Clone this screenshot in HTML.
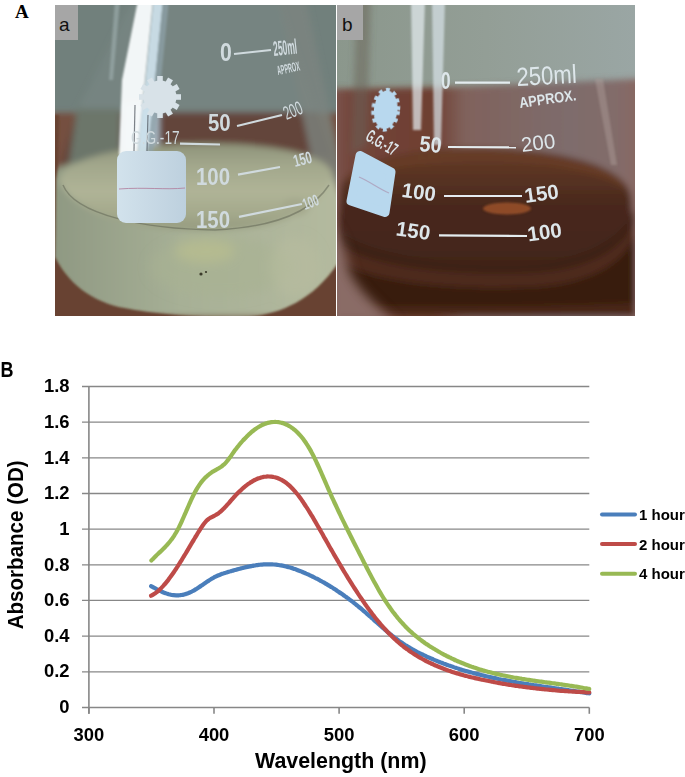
<!DOCTYPE html>
<html><head><meta charset="utf-8">
<style>
html,body{margin:0;padding:0;background:#fff;}
body{width:685px;height:777px;position:relative;overflow:hidden;}
.abs{position:absolute;}
#A{left:15px;top:1px;font:bold 19px "Liberation Serif",serif;color:#000;}
#pa{left:55px;top:5px;width:281px;height:311px;overflow:hidden;}
#pb{left:337px;top:5px;width:298px;height:311px;overflow:hidden;}
svg text{font-family:"Liberation Sans",sans-serif;}
</style></head><body>
<div id="A" class="abs">A</div>
<div id="pa" class="abs"><svg width="281" height="311" viewBox="0 0 281 311">
<defs>
<filter id="fa1" x="-20%" y="-20%" width="140%" height="140%"><feGaussianBlur stdDeviation="3"/></filter>
<filter id="fa1b" x="-20%" y="-20%" width="140%" height="140%"><feGaussianBlur stdDeviation="6"/></filter>
<filter id="fa2" x="-20%" y="-20%" width="140%" height="140%"><feGaussianBlur stdDeviation="1.2"/></filter>
<filter id="fa3"><feGaussianBlur stdDeviation="0.5"/></filter>
<linearGradient id="liqa" x1="0" y1="0" x2="1" y2="0">
<stop offset="0" stop-color="#8e9882"/>
<stop offset="0.45" stop-color="#a7b096"/>
<stop offset="1" stop-color="#b4ba9f"/>
</linearGradient>
<linearGradient id="surfa" x1="0" y1="0" x2="0" y2="1">
<stop offset="0" stop-color="#8e937a"/>
<stop offset="0.25" stop-color="#a2a78c"/>
<stop offset="0.55" stop-color="#b0b497"/>
<stop offset="0.8" stop-color="#a4a98c"/>
<stop offset="1" stop-color="#959a7e"/>
</linearGradient>
</defs>
<rect width="281" height="311" fill="#71807c"/>
<g filter="url(#fa1)">
<rect x="-10" y="108" width="300" height="210" fill="#75503f"/>
<path d="M80,-10 L222,-10 L262,107 L22,107 Z" fill="#768481"/>
<path d="M22,107 L262,107 L276,150 L4,165 Z" fill="#64443a"/>
<path d="M222,-10 L250,-10 L290,180 L262,180 Z" fill="#7c8580" opacity="0.8"/>
<path d="M22,104 L66,104 L64,172 L12,172 Z" fill="#6c766a"/>
<path d="M70,100 L104,100 L104,146 L68,146 Z" fill="#a8b8c2"/>
<path d="M-5,168 C6,145 268,140 276,168 L290,200 L290,311 L-5,311 Z" fill="url(#liqa)"/>
<path d="M4,176 C8,130 270,124 278,170 C262,212 220,224 150,226 C80,224 20,210 4,176 Z" fill="url(#surfa)"/>
<ellipse cx="240" cy="202" rx="14" ry="9" fill="#a4a88c"/>
</g>
<g filter="url(#fa1b)">
<ellipse cx="165" cy="262" rx="70" ry="30" fill="#a9b293" opacity="0.6"/><ellipse cx="150" cy="246" rx="30" ry="12" fill="#c0c38e" opacity="0.55"/><ellipse cx="240" cy="262" rx="25" ry="30" fill="#b8bc9e" opacity="0.6"/>
</g>
<g filter="url(#fa2)">
<path d="M-5,110 L4,110 L3,160 L1,175 L0,252 C16,284 45,300 75,304 C100,309 150,313 184,313 C218,311 255,300 283,258 L290,320 L-5,320 Z" fill="#684230"/>

</g>
<path d="M8,180 C20,210 90,224 160,225 C225,222 258,205 274,180" stroke="#55594a" stroke-width="1.5" fill="none" opacity="0.45" filter="url(#fa3)"/>
<g filter="url(#fa2)">
<path d="M83,-5 L98,-5 L90,75 L82,150 L64,150 L67,75 Z" fill="#f8fbfc" opacity="0.96"/>
<path d="M98.5,-5 L108,-5 L100,75 L92,150 L82.5,150 L90.5,75 Z" fill="#cfe3ee" opacity="0.9"/>
<path d="M108,-5 L114,-5 L106,75 L98,150 L92,150 L100,75 Z" fill="#8fa2aa" opacity="0.7"/>
<path d="M60,-5 L65,-5 L58,75 L54,75 Z" fill="#a0b0b0" opacity="0.6"/>
</g>
<circle cx="146" cy="269" r="1.6" fill="#3a3a2a"/><circle cx="151" cy="267" r="1.1" fill="#3a3a2a"/>
<g stroke="#4a5058" stroke-width="1.2" opacity="0.7" filter="url(#fa3)"><line x1="80" y1="100" x2="79" y2="146"/><line x1="93" y1="110" x2="92" y2="146"/></g>
<linearGradient id="laba" x1="0" y1="0" x2="1" y2="0"><stop offset="0" stop-color="#d2e2ec"/><stop offset="1" stop-color="#bdd0de"/></linearGradient>
<rect x="62" y="146" width="69" height="72" rx="9" fill="url(#laba)"/>
<path d="M64,184 C90,182 110,185 130,183" stroke="#b07a9a" stroke-width="1" fill="none" opacity="0.8"/>
<g fill="#d8e2e8" filter="url(#fa3)"><circle cx="105" cy="92" r="16.5"/><rect x="102.2" y="71.0" width="5.6" height="7" transform="rotate(0 105 92)"/><rect x="102.2" y="71.0" width="5.6" height="7" transform="rotate(30 105 92)"/><rect x="102.2" y="71.0" width="5.6" height="7" transform="rotate(60 105 92)"/><rect x="102.2" y="71.0" width="5.6" height="7" transform="rotate(90 105 92)"/><rect x="102.2" y="71.0" width="5.6" height="7" transform="rotate(120 105 92)"/><rect x="102.2" y="71.0" width="5.6" height="7" transform="rotate(150 105 92)"/><rect x="102.2" y="71.0" width="5.6" height="7" transform="rotate(180 105 92)"/><rect x="102.2" y="71.0" width="5.6" height="7" transform="rotate(210 105 92)"/><rect x="102.2" y="71.0" width="5.6" height="7" transform="rotate(240 105 92)"/><rect x="102.2" y="71.0" width="5.6" height="7" transform="rotate(270 105 92)"/><rect x="102.2" y="71.0" width="5.6" height="7" transform="rotate(300 105 92)"/><rect x="102.2" y="71.0" width="5.6" height="7" transform="rotate(330 105 92)"/></g>
<g fill="#d0dade" font-family="Liberation Sans" font-weight="bold" filter="url(#fa3)">
<text transform="translate(165,56) scale(0.85,1)" font-size="25">0</text>
<text transform="translate(219,51) rotate(-6) scale(0.4,1)" font-size="21">250ml</text>
<text transform="translate(223,70) rotate(-12) scale(0.42,1)" font-size="13">APPROX</text>
<text transform="translate(153,126) scale(0.85,1)" font-size="24">50</text>
<text transform="translate(231.5,115) rotate(-22) scale(0.6,1)" font-size="19" font-weight="normal">200</text>
<text transform="translate(141,180) scale(0.85,1)" font-size="24">100</text>
<text transform="translate(141,222.5) scale(0.85,1)" font-size="24">150</text>
<text transform="translate(240,162) rotate(-14) scale(0.65,1)" font-size="17">150</text>
<text transform="translate(250,205) rotate(-20) scale(0.6,1)" font-size="16">100</text>
<text transform="translate(76,139) scale(0.72,1)" font-size="19" font-weight="normal">G.G.-17</text>
</g>
<g stroke="#d0dade" stroke-width="2.2" filter="url(#fa3)">
<line x1="179" y1="49" x2="216" y2="45"/>
<line x1="182" y1="121" x2="227" y2="110"/>
<line x1="183" y1="169.7" x2="225" y2="162"/>
<line x1="184" y1="211.8" x2="247" y2="199"/>
<line x1="125" y1="138.6" x2="165" y2="139.5"/>
</g>
<rect x="0" y="0" width="23" height="35" fill="#a6a6a6"/>
<text x="4" y="26" font-size="19" fill="#111" font-family="Liberation Sans">a</text>
</svg>
</div>
<div id="pb" class="abs"><svg width="298" height="311" viewBox="0 0 298 311">
<defs>
<filter id="fb1" x="-20%" y="-20%" width="140%" height="140%"><feGaussianBlur stdDeviation="3"/></filter>
<filter id="fb1b" x="-20%" y="-20%" width="140%" height="140%"><feGaussianBlur stdDeviation="6"/></filter>
<filter id="fb2" x="-20%" y="-20%" width="140%" height="140%"><feGaussianBlur stdDeviation="1.2"/></filter>
<filter id="fb3"><feGaussianBlur stdDeviation="0.5"/></filter>
<linearGradient id="wallb" x1="0" y1="0" x2="1" y2="0">
<stop offset="0" stop-color="#8b978c"/>
<stop offset="0.5" stop-color="#939e96"/>
<stop offset="1" stop-color="#9aa6a4"/>
</linearGradient>
<linearGradient id="tableb" x1="0" y1="0" x2="1" y2="0">
<stop offset="0" stop-color="#7f5c55"/>
<stop offset="0.07" stop-color="#73463c"/>
<stop offset="0.33" stop-color="#6e3e30"/>
<stop offset="0.43" stop-color="#80625c"/>
<stop offset="0.75" stop-color="#7e6c6c"/>
<stop offset="0.9" stop-color="#826c6a"/>
<stop offset="1" stop-color="#8a6660"/>
</linearGradient>
<linearGradient id="liqb" x1="0" y1="0" x2="0" y2="1">
<stop offset="0" stop-color="#643c28"/>
<stop offset="0.15" stop-color="#5a3423"/>
<stop offset="0.35" stop-color="#48281c"/>
<stop offset="0.6" stop-color="#44261b"/>
<stop offset="1" stop-color="#3a1e10"/>
</linearGradient>
</defs>
<rect width="298" height="311" fill="url(#wallb)"/>
<g filter="url(#fb1)">
<path d="M-10,84 L120,82 L298,74 L310,74 L310,320 L-10,320 Z" fill="url(#tableb)"/>
<path d="M20,-10 L34,-10 L30,140 L14,150 Z" fill="#6a6258" opacity="0.5"/>
<path d="M4,185 C6,128 288,128 294,192 L298,250 L298,311 L0,311 L0,240 Z" fill="url(#liqb)"/>
<path d="M10,176 C20,140 275,138 290,186 C270,165 200,155 150,155 C90,155 40,162 10,176 Z" fill="#6e4026" opacity="0.8"/>
<path d="M4,228 C40,252 120,262 200,258 C250,252 282,235 298,205 L298,218 C282,248 250,264 200,268 C120,270 40,262 4,240 Z" fill="#3a1e12" opacity="0.6"/>
<path d="M4,242 C40,264 120,272 200,268 C250,264 282,248 298,218 L298,232 C282,262 250,278 200,282 C120,286 40,278 4,258 Z" fill="#583022" opacity="0.6"/>
<path d="M4,258 C40,278 120,286 200,282 C250,278 282,262 298,232 L298,311 L4,311 Z" fill="#361a0c" opacity="0.9"/>
<path d="M0,300 C100,302 200,302 298,298 L298,311 L0,311 Z" fill="#4e2c1a" opacity="0.8"/>
</g>
<g filter="url(#fb1b)">
<path d="M-10,215 C5,230 10,250 12,265 C20,285 40,300 60,320 L-10,320 Z" fill="#8a6c66"/>

</g>
<g filter="url(#fb2)">
<ellipse cx="170" cy="203.5" rx="24" ry="6" fill="#96502a" opacity="0.9"/>
<path d="M74,-5 L88,-5 L84,125 L76,125 Z" fill="#e6eef2" opacity="0.7"/>
<path d="M95,-5 L108,-5 L104,140 L97,140 Z" fill="#d8e4ea" opacity="0.7"/>
<path d="M258,74 L266,74 L280,160 L274,160 Z" fill="#b4a4a0" opacity="0.4"/>
</g>
<polygon points="23,150.5 54,167 48,207.5 14,196" fill="#b8d8ee" stroke="#b8d8ee" stroke-width="9" stroke-linejoin="round"/>
<path d="M22,172 C32,176 42,184 52,188" stroke="#a88aa8" stroke-width="1.2" fill="none" opacity="0.6"/>
<g fill="#b8d8ee" filter="url(#fb3)" transform="rotate(6 48.7 104.8)">
<ellipse cx="48.7" cy="104.8" rx="11.8" ry="19.2"/>
<ellipse cx="48.7" cy="104.8" rx="12.6" ry="20.2" fill="none" stroke="#b8d8ee" stroke-width="3.6" stroke-dasharray="3.9 3.7"/>
</g>
<g fill="#dde6ea" font-family="Liberation Sans" font-weight="bold" filter="url(#fb3)">
<text transform="translate(104,84) scale(0.72,1)" font-size="24">0</text>
<text transform="translate(180,81) rotate(-3) scale(0.85,1)" font-size="26" font-weight="normal">250ml</text>
<text transform="translate(183,103) rotate(-8) scale(0.85,1)" font-size="15">APPROX.</text>
<text transform="translate(82,146) rotate(5) scale(0.9,1)" font-size="22">50</text>
<text transform="translate(185,147) rotate(-7)" font-size="20.5" font-weight="normal">200</text>
<text transform="translate(64,191.7) rotate(8)" font-size="20.5">100</text>
<text transform="translate(58.3,230.3) rotate(8)" font-size="20.5">150</text>
<text transform="translate(188.6,197.9) rotate(-8)" font-size="20.5">150</text>
<text transform="translate(191.6,236.4) rotate(-8)" font-size="20.5">100</text>
<text transform="translate(27.5,134.5) rotate(30) scale(0.52,1)" font-size="18">G.G.-17</text>
</g>
<g stroke="#e4ecef" stroke-width="2.2" filter="url(#fb3)">
<line x1="118" y1="77.7" x2="173" y2="77.7"/>
<line x1="111" y1="142" x2="179" y2="142.3"/>
<line x1="107" y1="191" x2="185" y2="191"/>
<line x1="102" y1="230.4" x2="190" y2="231"/>
</g>
<rect x="0" y="0" width="26" height="35" fill="#a6a6a6"/>
<text x="5" y="26" font-size="19" fill="#111" font-family="Liberation Sans">b</text>
</svg>
</div>
<svg class="abs" style="left:0;top:0" width="685" height="777" viewBox="0 0 685 777">
<text transform="translate(0.6,377) scale(0.8,1)" font-size="22.5" font-weight="bold" fill="#000">B</text>
<g stroke="#878787" stroke-width="1.3" fill="none"><line x1="82" y1="671.79" x2="589.3" y2="671.79"/><line x1="82" y1="636.13" x2="589.3" y2="636.13"/><line x1="82" y1="600.47" x2="589.3" y2="600.47"/><line x1="82" y1="564.81" x2="589.3" y2="564.81"/><line x1="82" y1="529.15" x2="589.3" y2="529.15"/><line x1="82" y1="493.49" x2="589.3" y2="493.49"/><line x1="82" y1="457.83" x2="589.3" y2="457.83"/><line x1="82" y1="422.17" x2="589.3" y2="422.17"/><line x1="82" y1="386.51" x2="589.3" y2="386.51"/></g>
<g stroke="#878787" stroke-width="1.6" fill="none">
<line x1="88.9" y1="386.5" x2="88.9" y2="713.8"/>
<line x1="82" y1="707.45" x2="589.3" y2="707.45"/>
<line x1="88.90" y1="707.45" x2="88.90" y2="713.8"/><line x1="214.00" y1="707.45" x2="214.00" y2="713.8"/><line x1="339.10" y1="707.45" x2="339.10" y2="713.8"/><line x1="464.20" y1="707.45" x2="464.20" y2="713.8"/><line x1="589.30" y1="707.45" x2="589.30" y2="713.8"/>
</g>
<g font-size="18.4" font-weight="bold" fill="#000"><text x="69.5" y="713.15" text-anchor="end">0</text><text x="69.5" y="677.49" text-anchor="end">0.2</text><text x="69.5" y="641.83" text-anchor="end">0.4</text><text x="69.5" y="606.17" text-anchor="end">0.6</text><text x="69.5" y="570.51" text-anchor="end">0.8</text><text x="69.5" y="534.85" text-anchor="end">1</text><text x="69.5" y="499.19" text-anchor="end">1.2</text><text x="69.5" y="463.53" text-anchor="end">1.4</text><text x="69.5" y="427.87" text-anchor="end">1.6</text><text x="69.5" y="392.21" text-anchor="end">1.8</text><text x="88.90" y="740.6" text-anchor="middle">300</text><text x="214.00" y="740.6" text-anchor="middle">400</text><text x="339.10" y="740.6" text-anchor="middle">500</text><text x="464.20" y="740.6" text-anchor="middle">600</text><text x="589.30" y="740.6" text-anchor="middle">700</text></g>
<text x="255" y="767.8" font-size="21.4" font-weight="bold" fill="#000">Wavelength (nm)</text>
<text transform="translate(23.1,544.8) rotate(-90) scale(0.97,1)" text-anchor="middle" font-size="21.2" font-weight="bold" fill="#000">Absorbance (OD)</text>
<g fill="none" stroke-width="4.2" stroke-linecap="round" stroke-linejoin="round">
<path d="M151.1,586.1 C151.5,586.3 152.8,587.1 153.6,587.5 C154.4,588.0 155.3,588.4 156.1,588.9 C156.9,589.3 157.8,589.8 158.6,590.2 C159.4,590.6 160.3,591.0 161.1,591.4 C161.9,591.8 162.8,592.1 163.6,592.5 C164.4,592.8 165.3,593.1 166.1,593.4 C166.9,593.7 167.8,593.9 168.6,594.2 C169.4,594.4 170.3,594.6 171.1,594.8 C171.9,594.9 172.8,595.1 173.6,595.2 C174.4,595.3 175.3,595.3 176.1,595.3 C176.9,595.4 177.8,595.3 178.6,595.3 C179.4,595.2 180.3,595.2 181.1,595.0 C181.9,594.9 182.8,594.8 183.6,594.6 C184.4,594.4 185.3,594.1 186.1,593.9 C186.9,593.6 187.8,593.3 188.6,593.0 C189.4,592.6 190.3,592.3 191.1,591.9 C191.9,591.5 192.8,591.0 193.6,590.6 C194.4,590.1 195.3,589.6 196.1,589.1 C196.9,588.6 197.8,588.1 198.6,587.5 C199.4,587.0 200.3,586.4 201.1,585.8 C201.9,585.3 202.8,584.7 203.6,584.1 C204.4,583.5 205.3,583.0 206.1,582.4 C206.9,581.8 207.8,581.3 208.6,580.7 C209.4,580.2 210.3,579.7 211.1,579.1 C211.9,578.6 212.8,578.2 213.6,577.7 C214.4,577.2 215.3,576.8 216.1,576.4 C216.9,576.0 217.8,575.6 218.6,575.3 C219.4,574.9 220.3,574.6 221.1,574.3 C221.9,574.0 222.8,573.7 223.6,573.4 C224.4,573.1 225.3,572.9 226.1,572.6 C226.9,572.3 227.8,572.1 228.6,571.8 C229.4,571.6 230.3,571.4 231.1,571.1 C231.9,570.9 232.8,570.6 233.6,570.4 C234.4,570.2 235.3,569.9 236.1,569.7 C236.9,569.5 237.8,569.3 238.6,569.0 C239.4,568.8 240.3,568.6 241.1,568.4 C241.9,568.2 242.8,568.0 243.6,567.7 C244.4,567.5 245.3,567.3 246.1,567.2 C246.9,567.0 247.8,566.8 248.6,566.6 C249.4,566.4 250.3,566.3 251.1,566.1 C251.9,565.9 252.8,565.8 253.6,565.6 C254.4,565.5 255.3,565.4 256.1,565.2 C256.9,565.1 257.8,565.0 258.6,564.9 C259.4,564.8 260.3,564.7 261.1,564.6 C261.9,564.6 262.8,564.5 263.6,564.4 C264.4,564.4 265.3,564.3 266.1,564.3 C266.9,564.3 267.8,564.3 268.6,564.3 C269.4,564.3 270.3,564.3 271.1,564.3 C271.9,564.4 272.8,564.4 273.6,564.5 C274.4,564.5 275.3,564.6 276.1,564.7 C276.9,564.8 277.8,564.9 278.6,565.0 C279.4,565.2 280.3,565.3 281.1,565.4 C281.9,565.6 282.8,565.8 283.6,565.9 C284.4,566.1 285.3,566.3 286.1,566.5 C286.9,566.7 287.8,566.9 288.6,567.2 C289.4,567.4 290.3,567.6 291.1,567.9 C291.9,568.1 292.8,568.4 293.6,568.7 C294.4,569.0 295.3,569.2 296.1,569.5 C296.9,569.8 297.8,570.1 298.6,570.5 C299.4,570.8 300.3,571.1 301.1,571.4 C301.9,571.8 302.8,572.1 303.6,572.5 C304.4,572.8 305.3,573.2 306.1,573.6 C306.9,573.9 307.8,574.3 308.6,574.7 C309.4,575.1 310.3,575.5 311.1,575.9 C311.9,576.3 312.8,576.7 313.6,577.1 C314.4,577.5 315.3,578.0 316.1,578.4 C316.9,578.8 317.8,579.2 318.6,579.7 C319.4,580.1 320.3,580.6 321.1,581.0 C321.9,581.5 322.8,582.0 323.6,582.4 C324.4,582.9 325.3,583.4 326.1,583.9 C326.9,584.4 327.8,584.9 328.6,585.4 C329.4,585.9 330.3,586.4 331.1,586.9 C331.9,587.4 332.8,587.9 333.6,588.5 C334.4,589.0 335.3,589.5 336.1,590.1 C336.9,590.6 337.8,591.2 338.6,591.7 C339.4,592.3 340.3,592.9 341.1,593.4 C341.9,594.0 342.8,594.6 343.6,595.2 C344.4,595.8 345.3,596.4 346.1,597.0 C346.9,597.6 347.8,598.2 348.6,598.8 C349.4,599.5 350.3,600.1 351.1,600.7 C351.9,601.4 352.8,602.0 353.6,602.7 C354.4,603.3 355.3,604.0 356.1,604.6 C356.9,605.3 357.8,606.0 358.6,606.7 C359.4,607.3 360.3,608.0 361.1,608.7 C361.9,609.4 362.8,610.1 363.6,610.9 C364.4,611.6 365.3,612.3 366.1,613.0 C366.9,613.8 367.8,614.5 368.6,615.2 C369.4,616.0 370.3,616.7 371.1,617.4 C371.9,618.2 372.8,618.9 373.6,619.7 C374.4,620.4 375.3,621.2 376.1,621.9 C376.9,622.6 377.8,623.4 378.6,624.1 C379.4,624.9 380.3,625.6 381.1,626.3 C381.9,627.1 382.8,627.8 383.6,628.5 C384.4,629.2 385.3,630.0 386.1,630.7 C386.9,631.4 387.8,632.1 388.6,632.8 C389.4,633.5 390.3,634.2 391.1,634.8 C391.9,635.5 392.8,636.2 393.6,636.8 C394.4,637.5 395.3,638.1 396.1,638.7 C396.9,639.4 397.8,640.0 398.6,640.6 C399.4,641.2 400.3,641.8 401.1,642.3 C401.9,642.9 402.8,643.5 403.6,644.0 C404.4,644.6 405.3,645.1 406.1,645.6 C406.9,646.1 407.8,646.6 408.6,647.1 C409.4,647.6 410.3,648.1 411.1,648.6 C411.9,649.1 412.8,649.6 413.6,650.0 C414.4,650.5 415.3,650.9 416.1,651.4 C416.9,651.8 417.8,652.3 418.6,652.7 C419.4,653.1 420.3,653.5 421.1,653.9 C421.9,654.3 422.8,654.7 423.6,655.1 C424.4,655.5 425.3,655.9 426.1,656.3 C426.9,656.7 427.8,657.1 428.6,657.4 C429.4,657.8 430.3,658.2 431.1,658.5 C431.9,658.9 432.8,659.2 433.6,659.6 C434.4,659.9 435.3,660.3 436.1,660.6 C436.9,661.0 437.8,661.3 438.6,661.6 C439.4,662.0 440.3,662.3 441.1,662.6 C441.9,662.9 442.8,663.2 443.6,663.6 C444.4,663.9 445.3,664.2 446.1,664.5 C446.9,664.8 447.8,665.1 448.6,665.4 C449.4,665.7 450.3,666.0 451.1,666.3 C451.9,666.5 452.8,666.8 453.6,667.1 C454.4,667.4 455.3,667.7 456.1,667.9 C456.9,668.2 457.8,668.5 458.6,668.7 C459.4,669.0 460.3,669.3 461.1,669.5 C461.9,669.8 462.8,670.0 463.6,670.3 C464.4,670.5 465.3,670.8 466.1,671.0 C466.9,671.3 467.8,671.5 468.6,671.7 C469.4,672.0 470.3,672.2 471.1,672.4 C471.9,672.7 472.8,672.9 473.6,673.1 C474.4,673.3 475.3,673.6 476.1,673.8 C476.9,674.0 477.8,674.2 478.6,674.4 C479.4,674.6 480.3,674.8 481.1,675.0 C481.9,675.2 482.8,675.4 483.6,675.6 C484.4,675.8 485.3,676.0 486.1,676.2 C486.9,676.4 487.8,676.6 488.6,676.8 C489.4,677.0 490.3,677.2 491.1,677.4 C491.9,677.6 492.8,677.7 493.6,677.9 C494.4,678.1 495.3,678.3 496.1,678.4 C496.9,678.6 497.8,678.8 498.6,679.0 C499.4,679.1 500.3,679.3 501.1,679.5 C501.9,679.6 502.8,679.8 503.6,679.9 C504.4,680.1 505.3,680.3 506.1,680.4 C506.9,680.6 507.8,680.7 508.6,680.9 C509.4,681.0 510.3,681.2 511.1,681.3 C511.9,681.5 512.8,681.6 513.6,681.8 C514.4,681.9 515.3,682.1 516.1,682.2 C516.9,682.4 517.8,682.5 518.6,682.7 C519.4,682.8 520.3,682.9 521.1,683.1 C521.9,683.2 522.8,683.3 523.6,683.5 C524.4,683.6 525.3,683.8 526.1,683.9 C526.9,684.0 527.8,684.1 528.6,684.3 C529.4,684.4 530.3,684.5 531.1,684.7 C531.9,684.8 532.8,684.9 533.6,685.1 C534.4,685.2 535.3,685.3 536.1,685.4 C536.9,685.6 537.8,685.7 538.6,685.8 C539.4,685.9 540.3,686.1 541.1,686.2 C541.9,686.3 542.8,686.4 543.6,686.6 C544.4,686.7 545.3,686.8 546.1,686.9 C546.9,687.0 547.8,687.2 548.6,687.3 C549.4,687.4 550.3,687.5 551.1,687.6 C551.9,687.8 552.8,687.9 553.6,688.0 C554.4,688.1 555.3,688.2 556.1,688.4 C556.9,688.5 557.8,688.6 558.6,688.7 C559.4,688.9 560.3,689.0 561.1,689.1 C561.9,689.2 562.8,689.3 563.6,689.5 C564.4,689.6 565.3,689.7 566.1,689.8 C566.9,690.0 567.8,690.1 568.6,690.2 C569.4,690.3 570.3,690.4 571.1,690.6 C571.9,690.7 572.8,690.8 573.6,690.9 C574.4,691.1 575.3,691.2 576.1,691.3 C576.9,691.5 577.8,691.6 578.6,691.7 C579.4,691.8 580.3,692.0 581.1,692.1 C581.9,692.2 582.8,692.4 583.6,692.5 C584.4,692.6 585.3,692.8 586.1,692.9 C586.9,693.1 588.1,693.2 588.6,693.3 C589.1,693.4 589.2,693.4 589.3,693.4" stroke="#4a7ebb"/>
<path d="M151.1,595.7 C151.5,595.5 152.8,594.9 153.6,594.3 C154.4,593.8 155.3,593.2 156.1,592.6 C156.9,592.0 157.8,591.3 158.6,590.6 C159.4,589.8 160.3,589.0 161.1,588.2 C161.9,587.3 162.8,586.5 163.6,585.5 C164.4,584.6 165.3,583.6 166.1,582.6 C166.9,581.6 167.8,580.5 168.6,579.4 C169.4,578.4 170.3,577.2 171.1,576.1 C171.9,574.9 172.8,573.7 173.6,572.5 C174.4,571.3 175.3,570.0 176.1,568.8 C176.9,567.5 177.8,566.2 178.6,564.9 C179.4,563.6 180.3,562.3 181.1,560.9 C181.9,559.6 182.8,558.2 183.6,556.8 C184.4,555.5 185.3,554.1 186.1,552.7 C186.9,551.3 187.8,549.9 188.6,548.5 C189.4,547.1 190.3,545.7 191.1,544.3 C191.9,542.9 192.8,541.5 193.6,540.1 C194.4,538.7 195.3,537.3 196.1,535.9 C196.9,534.6 197.8,533.2 198.6,531.8 C199.4,530.5 200.3,529.1 201.1,527.8 C201.9,526.6 202.8,525.3 203.6,524.2 C204.4,523.1 205.3,522.1 206.1,521.2 C206.9,520.3 207.8,519.6 208.6,519.0 C209.4,518.4 210.3,517.9 211.1,517.4 C211.9,517.0 212.8,516.6 213.6,516.1 C214.4,515.7 215.3,515.3 216.1,514.8 C216.9,514.3 217.8,513.8 218.6,513.2 C219.4,512.5 220.3,511.8 221.1,511.1 C221.9,510.4 222.8,509.6 223.6,508.7 C224.4,507.9 225.3,507.0 226.1,506.1 C226.9,505.2 227.8,504.2 228.6,503.3 C229.4,502.4 230.3,501.4 231.1,500.4 C231.9,499.5 232.8,498.5 233.6,497.6 C234.4,496.7 235.3,495.8 236.1,494.9 C236.9,494.0 237.8,493.1 238.6,492.3 C239.4,491.5 240.3,490.7 241.1,489.9 C241.9,489.1 242.8,488.4 243.6,487.7 C244.4,486.9 245.3,486.3 246.1,485.6 C246.9,485.0 247.8,484.3 248.6,483.7 C249.4,483.2 250.3,482.6 251.1,482.1 C251.9,481.6 252.8,481.1 253.6,480.6 C254.4,480.2 255.3,479.8 256.1,479.4 C256.9,479.0 257.8,478.6 258.6,478.3 C259.4,478.0 260.3,477.8 261.1,477.5 C261.9,477.3 262.8,477.1 263.6,476.9 C264.4,476.8 265.3,476.6 266.1,476.6 C266.9,476.5 267.8,476.4 268.6,476.5 C269.4,476.5 270.3,476.5 271.1,476.6 C271.9,476.7 272.8,476.8 273.6,477.0 C274.4,477.1 275.3,477.3 276.1,477.6 C276.9,477.8 277.8,478.1 278.6,478.5 C279.4,478.8 280.3,479.2 281.1,479.7 C281.9,480.1 282.8,480.6 283.6,481.1 C284.4,481.6 285.3,482.2 286.1,482.8 C286.9,483.5 287.8,484.1 288.6,484.9 C289.4,485.6 290.3,486.4 291.1,487.2 C291.9,488.0 292.8,488.9 293.6,489.8 C294.4,490.7 295.3,491.7 296.1,492.7 C296.9,493.7 297.8,494.7 298.6,495.8 C299.4,496.9 300.3,498.0 301.1,499.2 C301.9,500.4 302.8,501.6 303.6,502.8 C304.4,504.0 305.3,505.3 306.1,506.6 C306.9,507.8 307.8,509.2 308.6,510.5 C309.4,511.8 310.3,513.2 311.1,514.6 C311.9,515.9 312.8,517.3 313.6,518.7 C314.4,520.2 315.3,521.6 316.1,523.0 C316.9,524.5 317.8,525.9 318.6,527.4 C319.4,528.8 320.3,530.3 321.1,531.8 C321.9,533.2 322.8,534.7 323.6,536.2 C324.4,537.7 325.3,539.1 326.1,540.6 C326.9,542.1 327.8,543.5 328.6,545.0 C329.4,546.5 330.3,547.9 331.1,549.4 C331.9,550.8 332.8,552.3 333.6,553.7 C334.4,555.2 335.3,556.6 336.1,558.0 C336.9,559.4 337.8,560.9 338.6,562.3 C339.4,563.7 340.3,565.1 341.1,566.5 C341.9,567.9 342.8,569.3 343.6,570.7 C344.4,572.1 345.3,573.4 346.1,574.8 C346.9,576.2 347.8,577.5 348.6,578.9 C349.4,580.2 350.3,581.6 351.1,582.9 C351.9,584.2 352.8,585.5 353.6,586.8 C354.4,588.1 355.3,589.4 356.1,590.7 C356.9,592.0 357.8,593.2 358.6,594.5 C359.4,595.8 360.3,597.0 361.1,598.2 C361.9,599.5 362.8,600.7 363.6,601.9 C364.4,603.1 365.3,604.3 366.1,605.4 C366.9,606.6 367.8,607.8 368.6,608.9 C369.4,610.1 370.3,611.2 371.1,612.3 C371.9,613.4 372.8,614.5 373.6,615.6 C374.4,616.7 375.3,617.7 376.1,618.8 C376.9,619.8 377.8,620.8 378.6,621.9 C379.4,622.9 380.3,623.9 381.1,624.8 C381.9,625.8 382.8,626.8 383.6,627.7 C384.4,628.6 385.3,629.5 386.1,630.4 C386.9,631.3 387.8,632.2 388.6,633.1 C389.4,633.9 390.3,634.8 391.1,635.6 C391.9,636.4 392.8,637.2 393.6,638.0 C394.4,638.8 395.3,639.5 396.1,640.3 C396.9,641.0 397.8,641.8 398.6,642.5 C399.4,643.2 400.3,643.9 401.1,644.6 C401.9,645.3 402.8,645.9 403.6,646.6 C404.4,647.3 405.3,647.9 406.1,648.5 C406.9,649.1 407.8,649.7 408.6,650.3 C409.4,650.9 410.3,651.5 411.1,652.1 C411.9,652.7 412.8,653.2 413.6,653.7 C414.4,654.3 415.3,654.8 416.1,655.3 C416.9,655.9 417.8,656.4 418.6,656.9 C419.4,657.3 420.3,657.8 421.1,658.3 C421.9,658.8 422.8,659.2 423.6,659.7 C424.4,660.1 425.3,660.6 426.1,661.0 C426.9,661.4 427.8,661.8 428.6,662.3 C429.4,662.7 430.3,663.1 431.1,663.5 C431.9,663.9 432.8,664.2 433.6,664.6 C434.4,665.0 435.3,665.4 436.1,665.7 C436.9,666.1 437.8,666.5 438.6,666.8 C439.4,667.1 440.3,667.5 441.1,667.8 C441.9,668.1 442.8,668.5 443.6,668.8 C444.4,669.1 445.3,669.4 446.1,669.7 C446.9,670.0 447.8,670.3 448.6,670.6 C449.4,670.9 450.3,671.2 451.1,671.5 C451.9,671.8 452.8,672.0 453.6,672.3 C454.4,672.6 455.3,672.8 456.1,673.1 C456.9,673.3 457.8,673.6 458.6,673.8 C459.4,674.1 460.3,674.3 461.1,674.6 C461.9,674.8 462.8,675.0 463.6,675.3 C464.4,675.5 465.3,675.7 466.1,675.9 C466.9,676.2 467.8,676.4 468.6,676.6 C469.4,676.8 470.3,677.0 471.1,677.2 C471.9,677.4 472.8,677.6 473.6,677.8 C474.4,678.0 475.3,678.2 476.1,678.4 C476.9,678.6 477.8,678.8 478.6,678.9 C479.4,679.1 480.3,679.3 481.1,679.5 C481.9,679.7 482.8,679.8 483.6,680.0 C484.4,680.2 485.3,680.4 486.1,680.5 C486.9,680.7 487.8,680.9 488.6,681.0 C489.4,681.2 490.3,681.4 491.1,681.5 C491.9,681.7 492.8,681.8 493.6,682.0 C494.4,682.2 495.3,682.3 496.1,682.5 C496.9,682.6 497.8,682.8 498.6,682.9 C499.4,683.1 500.3,683.2 501.1,683.4 C501.9,683.5 502.8,683.7 503.6,683.8 C504.4,683.9 505.3,684.1 506.1,684.2 C506.9,684.4 507.8,684.5 508.6,684.6 C509.4,684.8 510.3,684.9 511.1,685.0 C511.9,685.2 512.8,685.3 513.6,685.4 C514.4,685.5 515.3,685.7 516.1,685.8 C516.9,685.9 517.8,686.0 518.6,686.1 C519.4,686.3 520.3,686.4 521.1,686.5 C521.9,686.6 522.8,686.7 523.6,686.8 C524.4,687.0 525.3,687.1 526.1,687.2 C526.9,687.3 527.8,687.4 528.6,687.5 C529.4,687.6 530.3,687.7 531.1,687.8 C531.9,687.9 532.8,688.0 533.6,688.1 C534.4,688.2 535.3,688.3 536.1,688.4 C536.9,688.5 537.8,688.6 538.6,688.7 C539.4,688.8 540.3,688.9 541.1,688.9 C541.9,689.0 542.8,689.1 543.6,689.2 C544.4,689.3 545.3,689.4 546.1,689.5 C546.9,689.5 547.8,689.6 548.6,689.7 C549.4,689.8 550.3,689.8 551.1,689.9 C551.9,690.0 552.8,690.1 553.6,690.1 C554.4,690.2 555.3,690.3 556.1,690.4 C556.9,690.4 557.8,690.5 558.6,690.6 C559.4,690.6 560.3,690.7 561.1,690.8 C561.9,690.8 562.8,690.9 563.6,690.9 C564.4,691.0 565.3,691.1 566.1,691.1 C566.9,691.2 567.8,691.2 568.6,691.3 C569.4,691.3 570.3,691.4 571.1,691.5 C571.9,691.5 572.8,691.6 573.6,691.6 C574.4,691.7 575.3,691.7 576.1,691.8 C576.9,691.8 577.8,691.8 578.6,691.9 C579.4,691.9 580.3,692.0 581.1,692.0 C581.9,692.1 582.8,692.1 583.6,692.1 C584.4,692.2 585.3,692.2 586.1,692.3 C586.9,692.3 588.1,692.3 588.6,692.4 C589.1,692.4 589.2,692.4 589.3,692.4" stroke="#be4b48"/>
<path d="M151.4,560.5 C151.8,560.1 153.1,558.7 153.9,557.9 C154.7,557.0 155.6,556.2 156.4,555.4 C157.2,554.6 158.1,553.9 158.9,553.1 C159.7,552.3 160.6,551.5 161.4,550.7 C162.2,549.9 163.1,549.1 163.9,548.3 C164.7,547.4 165.6,546.6 166.4,545.7 C167.2,544.8 168.1,543.8 168.9,542.8 C169.7,541.8 170.6,540.8 171.4,539.6 C172.2,538.5 173.1,537.3 173.9,536.1 C174.7,534.8 175.6,533.4 176.4,532.0 C177.2,530.5 178.1,529.0 178.9,527.4 C179.7,525.7 180.6,523.9 181.4,522.1 C182.2,520.3 183.1,518.4 183.9,516.5 C184.7,514.6 185.6,512.7 186.4,510.7 C187.2,508.8 188.1,506.9 188.9,505.0 C189.7,503.1 190.6,501.2 191.4,499.4 C192.2,497.6 193.1,495.8 193.9,494.2 C194.7,492.6 195.6,491.0 196.4,489.6 C197.2,488.2 198.1,486.8 198.9,485.6 C199.7,484.4 200.6,483.2 201.4,482.1 C202.2,481.1 203.1,480.1 203.9,479.2 C204.7,478.3 205.6,477.4 206.4,476.7 C207.2,475.9 208.1,475.2 208.9,474.5 C209.7,473.8 210.6,473.2 211.4,472.6 C212.2,472.0 213.1,471.5 213.9,471.0 C214.7,470.5 215.6,470.0 216.4,469.6 C217.2,469.1 218.1,468.7 218.9,468.2 C219.7,467.7 220.6,467.2 221.4,466.6 C222.2,466.0 223.1,465.4 223.9,464.6 C224.7,463.9 225.6,463.0 226.4,462.0 C227.2,461.0 228.1,459.9 228.9,458.8 C229.7,457.7 230.6,456.5 231.4,455.3 C232.2,454.1 233.1,452.9 233.9,451.8 C234.7,450.6 235.6,449.5 236.4,448.4 C237.2,447.3 238.1,446.3 238.9,445.3 C239.7,444.2 240.6,443.2 241.4,442.3 C242.2,441.3 243.1,440.4 243.9,439.5 C244.7,438.6 245.6,437.7 246.4,436.9 C247.2,436.0 248.1,435.2 248.9,434.4 C249.7,433.7 250.6,432.9 251.4,432.2 C252.2,431.5 253.1,430.8 253.9,430.2 C254.7,429.6 255.6,429.0 256.4,428.4 C257.2,427.8 258.1,427.3 258.9,426.8 C259.7,426.3 260.6,425.9 261.4,425.4 C262.2,425.0 263.1,424.6 263.9,424.3 C264.7,423.9 265.6,423.6 266.4,423.4 C267.2,423.1 268.1,422.8 268.9,422.7 C269.7,422.5 270.6,422.3 271.4,422.2 C272.2,422.1 273.1,422.0 273.9,422.0 C274.7,421.9 275.6,421.9 276.4,422.0 C277.2,422.0 278.1,422.1 278.9,422.2 C279.7,422.4 280.6,422.6 281.4,422.8 C282.2,423.0 283.1,423.2 283.9,423.5 C284.7,423.8 285.6,424.2 286.4,424.6 C287.2,425.0 288.1,425.4 288.9,425.9 C289.7,426.4 290.6,426.9 291.4,427.5 C292.2,428.0 293.1,428.6 293.9,429.3 C294.7,430.0 295.6,430.7 296.4,431.5 C297.2,432.3 298.1,433.1 298.9,434.0 C299.7,434.8 300.6,435.8 301.4,436.8 C302.2,437.8 303.1,438.9 303.9,440.0 C304.7,441.1 305.6,442.3 306.4,443.6 C307.2,444.8 308.1,446.2 308.9,447.6 C309.7,449.0 310.6,450.4 311.4,452.0 C312.2,453.5 313.1,455.2 313.9,456.8 C314.7,458.5 315.6,460.2 316.4,462.0 C317.2,463.7 318.1,465.6 318.9,467.4 C319.7,469.2 320.6,471.1 321.4,473.0 C322.2,474.9 323.1,476.8 323.9,478.7 C324.7,480.6 325.6,482.6 326.4,484.5 C327.2,486.4 328.1,488.3 328.9,490.2 C329.7,492.1 330.6,494.0 331.4,495.8 C332.2,497.7 333.1,499.5 333.9,501.3 C334.7,503.1 335.6,504.9 336.4,506.7 C337.2,508.5 338.1,510.3 338.9,512.0 C339.7,513.8 340.6,515.5 341.4,517.3 C342.2,519.0 343.1,520.7 343.9,522.4 C344.7,524.1 345.6,525.8 346.4,527.5 C347.2,529.2 348.1,530.8 348.9,532.5 C349.7,534.2 350.6,535.8 351.4,537.5 C352.2,539.2 353.1,540.8 353.9,542.5 C354.7,544.1 355.6,545.8 356.4,547.4 C357.2,549.0 358.1,550.7 358.9,552.3 C359.7,554.0 360.6,555.6 361.4,557.2 C362.2,558.9 363.1,560.5 363.9,562.2 C364.7,563.8 365.6,565.4 366.4,567.0 C367.2,568.7 368.1,570.3 368.9,571.9 C369.7,573.5 370.6,575.0 371.4,576.6 C372.2,578.2 373.1,579.7 373.9,581.3 C374.7,582.8 375.6,584.3 376.4,585.8 C377.2,587.3 378.1,588.8 378.9,590.2 C379.7,591.7 380.6,593.1 381.4,594.5 C382.2,595.9 383.1,597.3 383.9,598.6 C384.7,600.0 385.6,601.3 386.4,602.5 C387.2,603.8 388.1,605.0 388.9,606.2 C389.7,607.5 390.6,608.6 391.4,609.8 C392.2,610.9 393.1,612.0 393.9,613.1 C394.7,614.2 395.6,615.3 396.4,616.3 C397.2,617.3 398.1,618.3 398.9,619.3 C399.7,620.3 400.6,621.3 401.4,622.2 C402.2,623.1 403.1,624.0 403.9,624.9 C404.7,625.8 405.6,626.6 406.4,627.5 C407.2,628.3 408.1,629.1 408.9,629.9 C409.7,630.7 410.6,631.5 411.4,632.2 C412.2,633.0 413.1,633.7 413.9,634.4 C414.7,635.2 415.6,635.9 416.4,636.5 C417.2,637.2 418.1,637.9 418.9,638.5 C419.7,639.2 420.6,639.8 421.4,640.4 C422.2,641.1 423.1,641.7 423.9,642.3 C424.7,642.9 425.6,643.4 426.4,644.0 C427.2,644.6 428.1,645.1 428.9,645.7 C429.7,646.2 430.6,646.8 431.4,647.3 C432.2,647.8 433.1,648.3 433.9,648.8 C434.7,649.3 435.6,649.8 436.4,650.3 C437.2,650.8 438.1,651.3 438.9,651.8 C439.7,652.3 440.6,652.7 441.4,653.2 C442.2,653.7 443.1,654.1 443.9,654.6 C444.7,655.0 445.6,655.4 446.4,655.9 C447.2,656.3 448.1,656.7 448.9,657.1 C449.7,657.5 450.6,657.9 451.4,658.3 C452.2,658.7 453.1,659.1 453.9,659.5 C454.7,659.9 455.6,660.3 456.4,660.6 C457.2,661.0 458.1,661.4 458.9,661.7 C459.7,662.1 460.6,662.4 461.4,662.8 C462.2,663.1 463.1,663.5 463.9,663.8 C464.7,664.1 465.6,664.4 466.4,664.8 C467.2,665.1 468.1,665.4 468.9,665.7 C469.7,666.0 470.6,666.3 471.4,666.6 C472.2,666.9 473.1,667.2 473.9,667.5 C474.7,667.7 475.6,668.0 476.4,668.3 C477.2,668.6 478.1,668.8 478.9,669.1 C479.7,669.4 480.6,669.6 481.4,669.9 C482.2,670.1 483.1,670.4 483.9,670.6 C484.7,670.8 485.6,671.1 486.4,671.3 C487.2,671.5 488.1,671.8 488.9,672.0 C489.7,672.2 490.6,672.4 491.4,672.6 C492.2,672.8 493.1,673.0 493.9,673.3 C494.7,673.5 495.6,673.7 496.4,673.9 C497.2,674.0 498.1,674.2 498.9,674.4 C499.7,674.6 500.6,674.8 501.4,675.0 C502.2,675.2 503.1,675.3 503.9,675.5 C504.7,675.7 505.6,675.9 506.4,676.0 C507.2,676.2 508.1,676.4 508.9,676.5 C509.7,676.7 510.6,676.8 511.4,677.0 C512.2,677.2 513.1,677.3 513.9,677.5 C514.7,677.6 515.6,677.8 516.4,677.9 C517.2,678.0 518.1,678.2 518.9,678.3 C519.7,678.5 520.6,678.6 521.4,678.7 C522.2,678.9 523.1,679.0 523.9,679.1 C524.7,679.3 525.6,679.4 526.4,679.5 C527.2,679.7 528.1,679.8 528.9,679.9 C529.7,680.0 530.6,680.2 531.4,680.3 C532.2,680.4 533.1,680.5 533.9,680.7 C534.7,680.8 535.6,680.9 536.4,681.0 C537.2,681.1 538.1,681.2 538.9,681.4 C539.7,681.5 540.6,681.6 541.4,681.7 C542.2,681.8 543.1,681.9 543.9,682.0 C544.7,682.2 545.6,682.3 546.4,682.4 C547.2,682.5 548.1,682.6 548.9,682.7 C549.7,682.8 550.6,683.0 551.4,683.1 C552.2,683.2 553.1,683.3 553.9,683.4 C554.7,683.5 555.6,683.6 556.4,683.8 C557.2,683.9 558.1,684.0 558.9,684.1 C559.7,684.2 560.6,684.3 561.4,684.4 C562.2,684.6 563.1,684.7 563.9,684.8 C564.7,684.9 565.6,685.0 566.4,685.2 C567.2,685.3 568.1,685.4 568.9,685.5 C569.7,685.7 570.6,685.8 571.4,685.9 C572.2,686.0 573.1,686.2 573.9,686.3 C574.7,686.4 575.6,686.6 576.4,686.7 C577.2,686.8 578.1,687.0 578.9,687.1 C579.7,687.3 580.6,687.4 581.4,687.5 C582.2,687.7 583.1,687.8 583.9,688.0 C584.7,688.1 585.6,688.3 586.4,688.4 C587.2,688.6 588.4,688.8 588.9,688.9 C589.4,689.0 589.2,689.0 589.3,689.0" stroke="#98b954"/>
</g>
<g stroke-width="4" stroke-linecap="round">
<line x1="602" y1="514.4" x2="635" y2="514.4" stroke="#4a7ebb"/>
<line x1="602" y1="544.1" x2="635" y2="544.1" stroke="#be4b48"/>
<line x1="602" y1="573.8" x2="635" y2="573.8" stroke="#98b954"/>
</g>
<g font-size="15" font-weight="bold" fill="#000">
<text x="639" y="519.8">1 hour</text>
<text x="639" y="549.5">2 hour</text>
<text x="639" y="579.2">4 hour</text>
</g>
</svg>
</body></html>
